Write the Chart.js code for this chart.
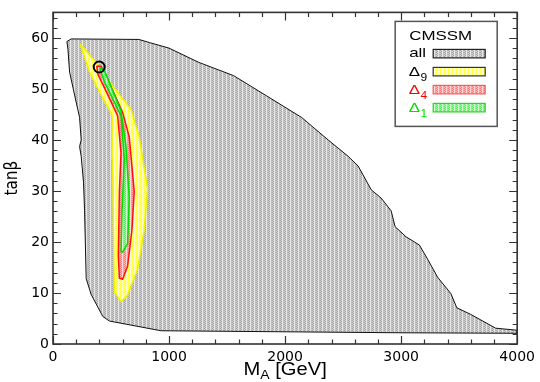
<!DOCTYPE html>
<html>
<head>
<meta charset="utf-8">
<script src="https://cdn.jsdelivr.net/npm/chart.js@4.4.0/dist/chart.umd.min.js"></script>
<style>
	html, body { margin: 0; padding: 0; background: #fff; }
</style>
</head>
<body>
<canvas id="chart" width="540" height="382"></canvas>
<script>
// Axis ticks (labelled) and minor tick steps
const xTicks = [0, 1000, 2000, 3000, 4000];
const yTicks = [0, 10, 20, 30, 40, 50, 60];
const xMinorStep = 200;
const yMinorStep = 2;

// Region outlines, [M_A, tanb]
const allRegion = [
	[120, 59.3], [157, 59.8], [740, 59.7], [829, 59.1], [1000, 58.0], [1257, 55.2],
	[1557, 52.6], [1829, 48.8], [2143, 44.4], [2371, 40.0], [2543, 36.8], [2629, 34.9],
	[2743, 30.2], [2828, 28.6], [2914, 26.1], [2948, 23.0], [3043, 21.0], [3157, 19.4],
	[3229, 16.6], [3314, 13.1], [3428, 9.9], [3480, 7.1], [3600, 5.8], [3814, 3.1],
	[4000, 2.7], [4000, 2.1], [3000, 2.2], [930, 2.6], [486, 4.5], [429, 5.4],
	[329, 9.7], [286, 12.8], [272, 26.1], [263, 31.7], [243, 36.8], [229, 38.7],
	[243, 40.0], [229, 44.4], [186, 48.8], [143, 53.3], [129, 57.7], [120, 59.3],
];
const delta9Region = [
	[235, 58.8], [372, 55.2], [486, 51.4], [672, 46.0], [743, 40.6], [814, 30.5],
	[786, 22.3], [729, 14.7], [643, 9.6], [586, 8.3], [529, 10.2], [520, 23.5],
	[514, 36.2], [509, 44.9], [429, 48.2], [315, 53.3], [235, 58.8],
];
const delta4Region = [
	[377, 54.5], [415, 54.4], [457, 52.6], [600, 45.4], [657, 40.6], [700, 29.9],
	[680, 22.3], [643, 15.3], [600, 12.7], [572, 12.9], [563, 17.2], [572, 29.9],
	[586, 37.4], [557, 44.7], [486, 48.2], [386, 52.9], [377, 54.5],
];
const delta1Region = [
	[406, 54.2], [443, 53.6], [586, 45.7], [629, 38.7], [657, 28.6], [643, 19.7],
	[600, 18.0], [586, 18.1], [595, 26.1], [614, 36.2], [586, 44.7], [443, 51.4],
	[406, 53.8], [406, 54.2],
];
const bestFit = [[398, 54.3]];

const toPoints = (arr) => arr.map((p) => ({ x: p[0], y: p[1] }));

const canvas = document.getElementById("chart");
const ctx = canvas.getContext("2d");

// Small dotted textures like the scanned points in the original
function makePattern(colors) {
	const c = document.createElement("canvas");
	c.width = colors.length;
	c.height = 2;
	const cx = c.getContext("2d");
	colors.forEach((pair, i) => {
		cx.fillStyle = pair[0];
		cx.fillRect(i, 0, 1, 1);
		cx.fillStyle = pair[1];
		cx.fillRect(i, 1, 1, 1);
	});
	return ctx.createPattern(c, "repeat");
}

const grayFill = makePattern([["#a2a2a2", "#d2d2d2"], ["#d2d2d2", "#a2a2a2"], ["#ececec", "#e4e4e4"], ["#b6b6b6", "#c8c8c8"]]);
const yellowFill = makePattern([["#ffff40", "#ffffa8"], ["#ffffa8", "#ffff40"], ["#ffffd8", "#ffffd0"], ["#ffff70", "#ffff90"]]);
const redFill = makePattern([["#f27878", "#f8bcbc"], ["#f8bcbc", "#f27878"], ["#fcdcdc", "#fbd6d6"], ["#f49a9a", "#f6aaaa"]]);
const greenFill = makePattern([["#5ede5e", "#b0f2b0"], ["#b0f2b0", "#5ede5e"], ["#d4f9d4", "#cdf8cd"], ["#86e886", "#9cee9c"]]);

function stretchText(c, str, x, y, sx) {
	c.save();
	c.translate(x, y);
	c.scale(sx, 1);
	c.fillText(str, 0, 0);
	c.restore();
	return c.measureText(str).width * sx;
}

// Frame with inward ticks on all four sides
const frameTicks = {
	id: "frameTicks",
	afterDatasetsDraw(chart) {
		const a = chart.chartArea;
		const xs = chart.scales.x;
		const ys = chart.scales.y;
		const c = chart.ctx;
		c.save();
		c.strokeStyle = "#333";
		c.lineWidth = 1.2;
		c.beginPath();
		for (let v = 0; v <= 4000; v += xMinorStep) {
			const len = v % 1000 === 0 ? 8 : 4.5;
			const px = Math.round(xs.getPixelForValue(v)) + 0.5;
			c.moveTo(px, a.bottom); c.lineTo(px, a.bottom - len);
			c.moveTo(px, a.top); c.lineTo(px, a.top + len);
		}
		for (let v = 0; v <= 65; v += yMinorStep) {
			const len = v % 10 === 0 ? 8 : 4.5;
			const py = Math.round(ys.getPixelForValue(v)) + 0.5;
			c.moveTo(a.left, py); c.lineTo(a.left + len, py);
			c.moveTo(a.right, py); c.lineTo(a.right - len, py);
		}
		c.stroke();
		c.lineWidth = 1.6;
		c.strokeRect(a.left, a.top, a.right - a.left, a.bottom - a.top);
		c.restore();
	},
};

// Legend box and x axis title (subscripts need hand drawing)
const legendBox = {
	id: "legendBox",
	afterDraw(chart) {
		const a = chart.chartArea;
		const c = chart.ctx;
		const bx = a.right - 122;
		const by = a.top + 9;
		c.save();
		c.fillStyle = "#fff";
		c.fillRect(bx, by, 102, 105);
		c.strokeStyle = "#555";
		c.lineWidth = 1.5;
		c.strokeRect(bx, by, 102, 105);

		c.textBaseline = "alphabetic";
		c.font = "13px 'Liberation Sans', Arial, sans-serif";
		c.fillStyle = "#000";
		stretchText(c, "CMSSM", bx + 14, by + 18.5, 1.3);
		stretchText(c, "all", bx + 14, by + 36, 1.3);

		const rows = [
			{ sub: "9", color: "#000", fill: yellowFill, edge: "#333", top: 46 },
			{ sub: "4", color: "#ff0000", fill: redFill, edge: "#f06060", top: 64 },
			{ sub: "1", color: "#00e000", fill: greenFill, edge: "#30d030", top: 82 },
		];
		// "all" swatch
		c.fillStyle = grayFill;
		c.fillRect(bx + 38, by + 28, 52, 8.5);
		c.strokeStyle = "#222";
		c.lineWidth = 1.2;
		c.strokeRect(bx + 38, by + 28, 52, 8.5);
		rows.forEach((r) => {
			c.fillStyle = r.color;
			c.font = "13px 'Liberation Sans', Arial, sans-serif";
			const w = stretchText(c, "\u0394", bx + 13.5, by + r.top + 9, 1.3);
			c.font = "10px 'Liberation Sans', Arial, sans-serif";
			stretchText(c, r.sub, bx + 13.5 + w + 0.5, by + r.top + 14, 1.2);
			c.fillStyle = r.fill;
			c.fillRect(bx + 38, by + r.top, 52, 8.5);
			c.strokeStyle = r.edge;
			c.strokeRect(bx + 38, by + r.top, 52, 8.5);
		});

		// x axis title: M_A [GeV]
		c.fillStyle = "#000";
		const sx = 1.12;
		c.font = "18px 'Liberation Sans', Arial, sans-serif";
		const wM = c.measureText("M").width * sx;
		const wRest = c.measureText(" [GeV]").width * sx;
		c.font = "12.5px 'Liberation Sans', Arial, sans-serif";
		const wA = c.measureText("A").width * sx;
		const total = wM + wA + wRest;
		let x0 = (a.left + a.right) / 2 - total / 2;
		c.font = "18px 'Liberation Sans', Arial, sans-serif";
		stretchText(c, "M", x0, 375, sx);
		c.font = "12.5px 'Liberation Sans', Arial, sans-serif";
		stretchText(c, "A", x0 + wM, 379, sx);
		c.font = "18px 'Liberation Sans', Arial, sans-serif";
		stretchText(c, " [GeV]", x0 + wM + wA, 375, sx);
		c.restore();
	},
};

const regionSet = (label, pts, fill, edge, width, order) => ({
	label: label,
	data: toPoints(pts),
	showLine: true,
	fill: "shape",
	backgroundColor: fill,
	borderColor: edge,
	borderWidth: width,
	pointRadius: 0,
	tension: 0,
	order: order,
});

new Chart(ctx, {
	type: "scatter",
	data: {
		datasets: [
			{
				label: "best fit",
				data: toPoints(bestFit),
				pointRadius: 5.5,
				pointStyle: "circle",
				borderColor: "#000",
				borderWidth: 2,
				backgroundColor: "rgba(0,0,0,0)",
				order: 0,
			},
			regionSet("Delta1", delta1Region, greenFill, "#00dd00", 1.5, 1),
			regionSet("Delta4", delta4Region, redFill, "#ff1010", 1.5, 2),
			regionSet("Delta9", delta9Region, yellowFill, "#f0f000", 1.5, 3),
			regionSet("all", allRegion, grayFill, "#111", 1, 4),
		],
	},
	options: {
		responsive: false,
		animation: false,
		devicePixelRatio: 1,
		layout: { padding: { top: 2, right: 21, left: 0, bottom: 0 } },
		plugins: {
			legend: { display: false },
			tooltip: { enabled: false },
		},
		scales: {
			x: {
				type: "linear",
				min: 0,
				max: 4000,
				afterBuildTicks: (scale) => { scale.ticks = xTicks.map((v) => ({ value: v })); },
				afterFit: (scale) => { scale.height = 38; },
				grid: { display: false, drawTicks: false },
				border: { display: false },
				ticks: {
					padding: 5,
					color: "#000",
					maxRotation: 0,
					autoSkip: false,
					callback: (v) => String(v),
					font: { family: "'DejaVu Sans', sans-serif", size: 14 },
				},
			},
			y: {
				type: "linear",
				min: 0,
				max: 65,
				afterBuildTicks: (scale) => { scale.ticks = yTicks.map((v) => ({ value: v })); },
				afterFit: (scale) => { scale.width = 53; },
				grid: { display: false, drawTicks: false },
				border: { display: false },
				title: {
					display: true,
					text: "tan\u03b2",
					color: "#000",
					padding: { top: 2, bottom: 0 },
					font: { family: "'Liberation Sans Narrow', 'DejaVu Sans Condensed', 'Liberation Sans', sans-serif", size: 17 },
				},
				ticks: {
					padding: 4,
					color: "#000",
					autoSkip: false,
					callback: (v) => String(v),
					font: { family: "'DejaVu Sans', sans-serif", size: 14 },
				},
			},
		},
	},
	plugins: [frameTicks, legendBox],
});
</script>
</body>
</html>
